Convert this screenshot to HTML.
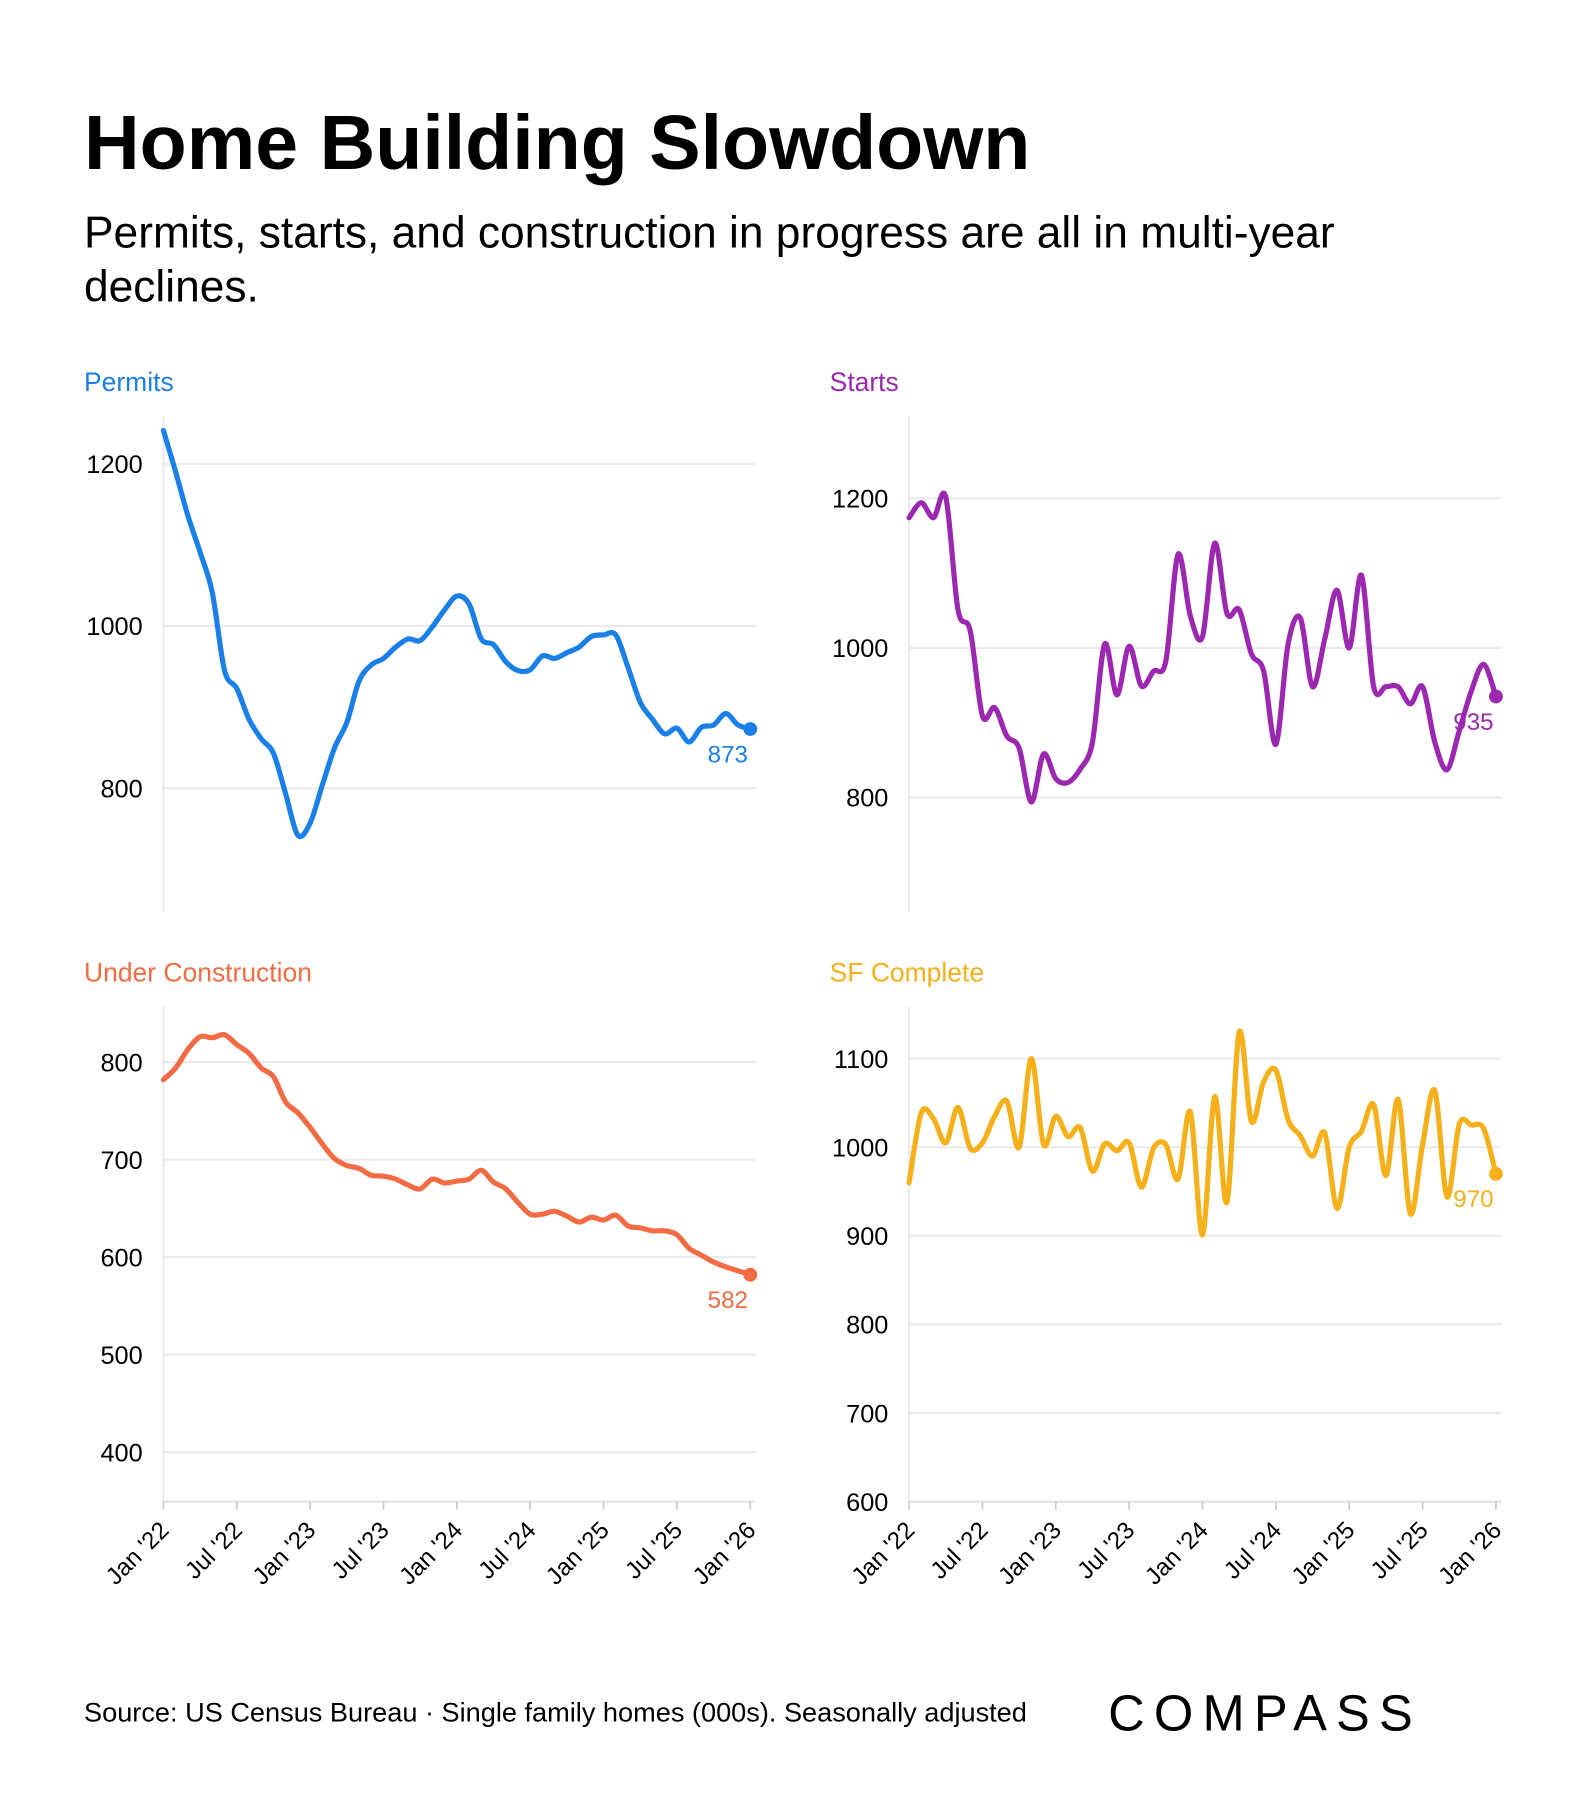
<!DOCTYPE html>
<html><head><meta charset="utf-8"><style>
html,body{margin:0;padding:0;background:#fff}
svg{display:block}
text{font-family:"Liberation Sans",sans-serif}
</style></head><body>
<svg id="root" width="1588" height="1802" viewBox="0 0 1380 1566" xmlns="http://www.w3.org/2000/svg">
<rect width="1380" height="1566" fill="#fff"/>
<text x="73" y="147" font-size="67" fill="#000" font-weight="bold">Home Building Slowdown</text>
<text x="73" y="215" font-size="38.5" fill="#000">Permits, starts, and construction in progress are all in multi-year</text>
<text x="73" y="262" font-size="38.5" fill="#000">declines.</text>
<g id="charts"></g>
<text x="73" y="1496" font-size="23.6" fill="#000">Source: US Census Bureau · Single family homes (000s). Seasonally adjusted</text>
<text x="963" y="1504" font-size="44" letter-spacing="8" fill="#000" font-weight="500">COMPASS</text>
</svg>
<script>
const xTickLabels=["Jan '22","Jul '22","Jan '23","Jul '23","Jan '24","Jul '24","Jan '25","Jul '25","Jan '26"];
const permitsValues=[1241,1190,1136,1091,1041,945,923,885,861,843,793,742,757,804,850,881,932,952,960,974,984,982,999,1020,1037,1027,984,977,956,945,946,963,960,967,974,987,989,989,949,906,885,867,874,857,875,878,892,878,873];
const startsValues=[1174,1194,1174,1202,1051,1023,909,920,882,866,794,858,825,820,838,874,1005,937,1002,949,969,982,1125,1043,1015,1140,1046,1051,992,969,871,1005,1040,948,1012,1077,1000,1097,948,948,948,925,948,874,837,889,943,978,935];
const underConstructionValues=[782,794,813,826,825,828,818,809,794,785,759,748,733,716,701,694,691,684,683,680,674,670,680,676,678,680,689,677,670,656,644,644,647,642,636,641,638,643,632,630,627,627,623,609,602,595,590,586,582];
const sfCompleteValues=[960,1039,1032,1005,1045,999,1005,1035,1052,1000,1100,1003,1035,1012,1022,973,1004,996,1005,955,999,1003,964,1040,901,1057,938,1130,1029,1074,1087,1031,1013,990,1016,931,1000,1018,1048,968,1054,925,1003,1064,944,1026,1025,1021,970];
const permitsTicks=[800,1000,1200];
const startsTicks=[800,1000,1200];
const underTicks=[400,500,600,700,800];
const sfTicks=[600,700,800,900,1000,1100];

const NS="http://www.w3.org/2000/svg";
const g=document.getElementById('charts');
function mk(t,a,p){const e=document.createElementNS(NS,t);for(const k in a)e.setAttribute(k,a[k]);(p||g).appendChild(e);return e;}
function panel(cfg){
  const grp=mk('g',{});
  
  
  const xs=i=>cfg.x0+(cfg.x1-cfg.x0)*i/48;
  const ys=v=>cfg.gy0+(v-cfg.gv0)*(cfg.gy1-cfg.gy0)/(cfg.gv1-cfg.gv0);
  const lab=mk('text',{x:cfg.lx,y:cfg.ly,'font-size':23,fill:cfg.color},grp);
  lab.textContent=cfg.title;
  
  
  cfg.ticks.forEach(v=>{
    const l=mk('line',{x1:cfg.x0,x2:cfg.x1+5,y1:ys(v),y2:ys(v),stroke:'#ebebeb','stroke-width':2},grp);
    
    
    const t=mk('text',{x:cfg.x0-18,y:ys(v)+8,'font-size':22,'text-anchor':'end',fill:'#000'},grp);
    t.textContent=v;
    
    
  });
  const ax=mk('line',{x1:cfg.x0,x2:cfg.x0,y1:cfg.top,y2:cfg.bottom,stroke:'#ebebeb','stroke-width':2},grp);
  
  
  if(cfg.xlabels){
    const xa=mk('line',{x1:cfg.x0,x2:cfg.x1+4,y1:cfg.bottom,y2:cfg.bottom,stroke:'#e5e5e5','stroke-width':2},grp);
    
    
    xTickLabels.forEach((s,k)=>{
      const x=xs(k*6);
      const tk=mk('line',{x1:x,x2:x,y1:cfg.bottom,y2:cfg.bottom+7,stroke:'#ccc','stroke-width':1.5},grp);
      
      
      const t=mk('text',{x:x+6,y:cfg.bottom+26,'font-size':21,'text-anchor':'end',fill:'#000',transform:`rotate(-45 ${x+6} ${cfg.bottom+26})`},grp);
      t.textContent=s;
      
      
    });
  }
  const pts=cfg.values.map((v,i)=>[xs(i),ys(v)]);
  let d=`M${pts[0][0]},${pts[0][1]}`;
  for(let i=0;i<pts.length-1;i++){
    const p0=pts[Math.max(0,i-1)],p1=pts[i],p2=pts[i+1],p3=pts[Math.min(pts.length-1,i+2)];
    const t=0.16;
    d+=` C${p1[0]+(p2[0]-p0[0])*t},${p1[1]+(p2[1]-p0[1])*t} ${p2[0]-(p3[0]-p1[0])*t},${p2[1]-(p3[1]-p1[1])*t} ${p2[0]},${p2[1]}`;
  }
  const path=mk('path',{d:d,fill:'none',stroke:cfg.color,'stroke-width':4.5,'stroke-linejoin':'round','stroke-linecap':'round'},grp);
  
  
  const last=pts[pts.length-1];
  const dot=mk('circle',{cx:last[0],cy:last[1],r:6,fill:cfg.color},grp);
  
  
  const vl=mk('text',{x:last[0]-2,y:last[1]+29,'font-size':21,'text-anchor':'end',fill:cfg.color},grp);
  vl.textContent=cfg.values[cfg.values.length-1];
  
  
}
panel({name:'permits',title:'Permits',color:'#1a80e8',values:permitsValues,ticks:permitsTicks,x0:142,x1:652,gv0:1200,gy0:403,gv1:800,gy1:685,top:362,bottom:792,lx:73,ly:340});
panel({name:'starts',title:'Starts',color:'#9c27b0',values:startsValues,ticks:startsTicks,x0:790,x1:1300,gv0:1200,gy0:433,gv1:800,gy1:693,top:362,bottom:792,lx:721,ly:340});
panel({name:'under-construction',title:'Under Construction',color:'#f26b43',values:underConstructionValues,ticks:underTicks,x0:142,x1:652,gv0:800,gy0:923,gv1:400,gy1:1262,top:875,bottom:1305,lx:73,ly:853,xlabels:true});
panel({name:'sf-complete',title:'SF Complete',color:'#f5b01a',values:sfCompleteValues,ticks:sfTicks,x0:790,x1:1300,gv0:1100,gy0:920,gv1:600,gy1:1305,top:875,bottom:1305,lx:721,ly:853,xlabels:true});
</script>
</body></html>
